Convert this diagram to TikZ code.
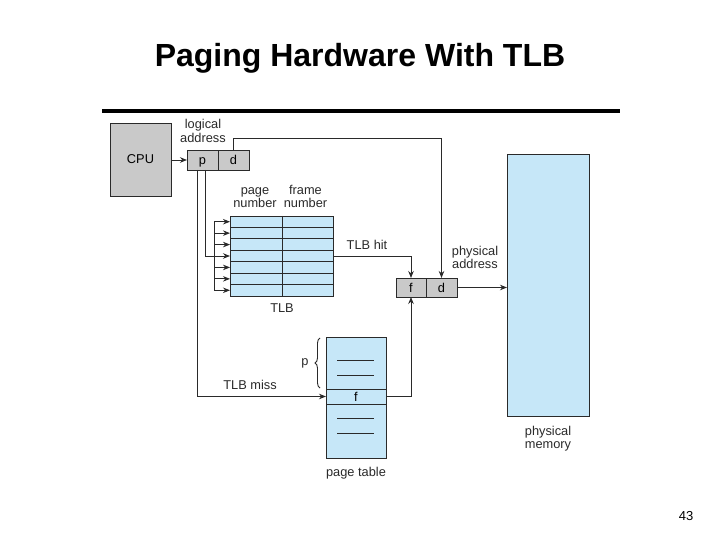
\documentclass[tikz,border=0pt]{standalone}
\usepackage{fontspec}
\setmainfont{Liberation Sans}
\usetikzlibrary{arrows.meta,decorations.pathreplacing}
\definecolor{lblue}{HTML}{C6E7F8}
\definecolor{lgray}{HTML}{C9C9C9}
\definecolor{ink}{HTML}{2A2A2A}
\newcommand{\dfont}{\fontsize{12.8}{13.5}\selectfont}
\tikzset{
  box/.style={draw=ink,line width=0.9pt,inner sep=0pt,outer sep=0pt},
  cell/.style={box,fill=lgray,minimum height=20pt,font=\dfont,text height=9pt,text depth=0pt},
  lbl/.style={inner sep=0pt,text=ink,font=\dfont,align=center},
  conn/.style={draw=ink,line width=0.9pt},
  arr/.style={conn,-{Stealth[length=7pt,width=5.5pt]}},
  thin/.style={draw=ink,line width=0.9pt}
}
\begin{document}
\begin{tikzpicture}[x=1pt,y=-1pt]
\useasboundingbox (0,0) rectangle (720,540);
\fill[white] (0,0) rectangle (720,540);
% title
\node[anchor=base,inner sep=0pt,font=\fontsize{32}{36}\selectfont\bfseries] (title) at (360,67) {Paging Hardware With TLB};
\draw[line width=4.5pt] (102,111) -- (620,111);
\node[anchor=base,inner sep=0pt,font=\fontsize{13}{15}\selectfont] (num) at (686,520) {43};

% CPU
\node[box,fill=lgray,minimum width=61pt,minimum height=73pt,font=\dfont] (cpu) at (140.5,159.5) {CPU};
% logical address
\node[cell,minimum width=31pt] (p) at (202.5,160) {p};
\node[cell,minimum width=31pt] (d) at (233.5,160) {d};
\node[lbl] (la) at (203,133) {\strut logical\\\strut address};

% TLB
\node[box,fill=lblue,minimum width=103pt,minimum height=80pt] (tlb) at (281.5,256) {};
\foreach \i in {1,...,6}{
  \draw[thin] (230,{216+\i*80/7}) -- (333,{216+\i*80/7});
}
\draw[thin] (282,216) -- (282,296);
\node[lbl] (pn) at (255,198.5) {\strut page\\\strut number};
\node[lbl] (fn) at (305.5,198.5) {\strut frame\\\strut number};
\node[lbl] (tlbl) at (282,308) {TLB};

% bracket of arrows
\draw[conn] (214,{216+40/7}) -- (214,{296-40/7});
\foreach \i in {0,...,6}{
  \coordinate (r\i) at (230,{216+40/7+\i*80/7});
  \draw[arr] (214,{216+40/7+\i*80/7}) -- (r\i);
}

% physical address
\node[cell,minimum width=30pt,minimum height=19pt] (pf) at (411,287.5) {f};
\node[cell,minimum width=31pt,minimum height=19pt] (pd) at (441.5,287.5) {d};
\node[lbl] (pa) at (475,259.5) {\strut physical\\\strut address};
\node[lbl] (hit) at (367,245) {TLB hit};

% physical memory
\node[box,fill=lblue,minimum width=82pt,minimum height=262pt] (mem) at (548,285) {};
\node[lbl] (pm) at (548,439.5) {\strut physical\\\strut memory};

% page table
\node[box,fill=lblue,minimum width=60pt,minimum height=121pt] (pt) at (356,397.5) {};
\node[box,fill=lblue,minimum width=60pt,minimum height=15pt,font=\dfont,text height=9pt,text depth=0pt] (ptf) at (356,396.5) {f};
\draw[thin] (337,360) -- (374,360);
\draw[thin] (337,375) -- (374,375);
\draw[thin] (337,418) -- (374,418);
\draw[thin] (337,433) -- (374,433);
\node[lbl] (ptl) at (356,473) {page table};
\draw[thin,decorate,decoration={brace,amplitude=5pt}] (320,388) -- (320,338);
\node[lbl] (pp) at (305,363) {p};
\node[lbl] (miss) at (250,385) {TLB miss};

% connectors
\draw[arr] (cpu.east |- p.west) -- (p.west);
\draw[arr] (d.north) -- (233.5,138) -| (pd.north);
\draw[arr] ([xshift=-5.5pt]p.south) |- (ptf.west);
\draw[conn] ([xshift=2.5pt]p.south) |- (214,256);
\draw[arr] (tlb.east |- r3) -| (pf.north);
\draw[arr] (ptf.east) -| (pf.south);
\draw[arr] (pd.east) -- (mem.west |- pd.east);
\end{tikzpicture}
\end{document}
